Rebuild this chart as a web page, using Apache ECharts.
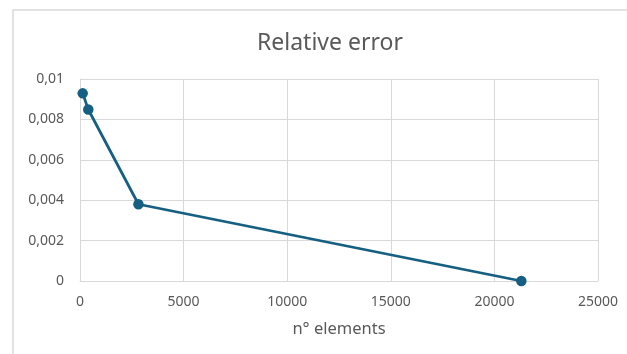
<!DOCTYPE html>
<html>
<head>
<meta charset="utf-8">
<script src="https://cdn.jsdelivr.net/npm/echarts@6/dist/echarts.min.js"></script>
<style>
  html, body { margin: 0; padding: 0; background: #ffffff; }
  #chart { width: 627px; height: 354px; }
</style>
</head>
<body>
<div id="chart"></div>
<script>
// Mesh size (number of elements) and the relative error obtained for each
const elements = [130, 400, 2820, 21300];
const relativeError = [0.00929, 0.00849, 0.0038, 0.0];

// Axis tick values
const xTicks = [0, 5000, 10000, 15000, 20000, 25000];
const yTicks = [0, 0.002, 0.004, 0.006, 0.008, 0.01];

const textColor = '#595959';
const gridColor = '#d9d9d9';
const lineColor = '#156082';
const fontFamily = '"Noto Sans", "Open Sans", sans-serif';

const fmtComma = v => String(+v.toFixed(4)).replace('.', ',');

const chart = echarts.init(document.getElementById('chart'));
chart.setOption({
  animation: false,
  backgroundColor: '#ffffff',
  textStyle: { fontFamily: fontFamily },
  graphic: [{
    type: 'rect',
    shape: { x: 13, y: 10, width: 700, height: 400 },
    style: { fill: 'none', stroke: gridColor, lineWidth: 1.5 },
    silent: true
  }],
  title: {
    text: 'Relative error',
    left: 252,
    top: 27,
    textStyle: { fontSize: 23, fontWeight: 'normal', color: textColor, fontFamily: fontFamily }
  },
  grid: { left: 80, right: 29, top: 79, bottom: 73 },
  xAxis: {
    type: 'value',
    min: xTicks[0],
    max: xTicks[xTicks.length - 1],
    interval: xTicks[1] - xTicks[0],
    name: 'n° elements',
    nameLocation: 'middle',
    nameGap: 40,
    nameTextStyle: { fontSize: 16.5, color: textColor },
    axisLine: { show: true, lineStyle: { color: gridColor, width: 1 } },
    axisTick: { show: false },
    axisLabel: { fontSize: 14, color: textColor, margin: 14, formatter: v => String(v) },
    splitLine: { show: true, lineStyle: { color: gridColor, width: 1 } }
  },
  yAxis: {
    type: 'value',
    min: yTicks[0],
    max: yTicks[yTicks.length - 1],
    interval: yTicks[1] - yTicks[0],
    axisLine: { show: true, lineStyle: { color: gridColor, width: 1 } },
    axisTick: { show: false },
    axisLabel: { fontSize: 14, color: textColor, margin: 16, formatter: fmtComma },
    splitLine: { show: true, lineStyle: { color: gridColor, width: 1 } }
  },
  series: [{
    type: 'line',
    data: elements.map((x, i) => [x, relativeError[i]]),
    symbol: 'circle',
    symbolSize: 10.5,
    itemStyle: { color: lineColor },
    lineStyle: { color: lineColor, width: 2.75 },
    clip: false
  }]
});
</script>
</body>
</html>
